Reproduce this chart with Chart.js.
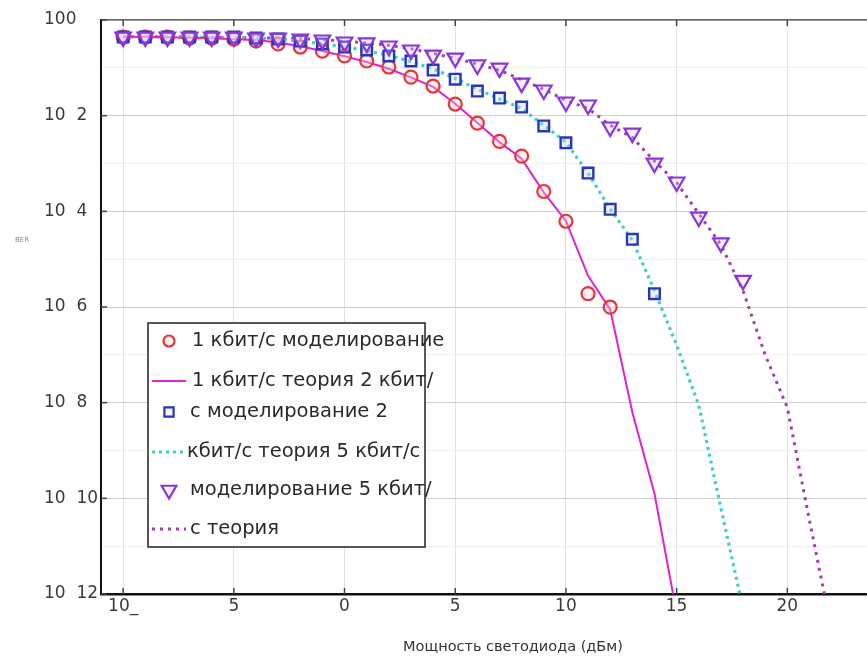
<!DOCTYPE html>
<html><head><meta charset="utf-8">
<script src="https://cdn.jsdelivr.net/npm/chart.js@4.4.1/dist/chart.umd.min.js"></script>
<style>html,body{margin:0;padding:0;background:#fff;overflow:hidden}#wrap{width:867px;height:659px}canvas{display:block}</style>
</head><body><div id="wrap"><canvas id="c" width="867" height="659"></canvas></div>
<script>
// ---- data ----
const xTickValues = [-10, -5, 0, 5, 10, 15, 20];
const xTickLabels = ['10_', '5', '0', '5', '10', '15', '20'];
const yTickValues = [1, 1e-1, 1e-2, 1e-3, 1e-4, 1e-5, 1e-6, 1e-7, 1e-8, 1e-9, 1e-10, 1e-11, 1e-12];
const yTickLabels = ['100', '', '10  2', '', '10  4', '', '10  6', '', '10  8', '', '10  10', '', '10  12'];
const xTitle = 'Мощность светодиода (дБм)';
const yTitle = 'BER';
const seriesLabels = [
  '1 кбит/с моделирование',
  '1 кбит/с теория 2 кбит/',
  'с моделирование 2',
  'кбит/с теория 5 кбит/с',
  'моделирование 5 кбит/',
  'с теория'
];

const sim1X = [-10,-9,-8,-7,-6,-5,-4,-3,-2,-1,0,1,2,3,4,5,6,7,8,9,10,11,12];
const sim1Y = [0.44,0.44,0.44,0.42,0.42,0.40,0.364,0.315,0.272,0.224,0.177,0.139,0.104,0.064,0.0416,0.0175,0.007,0.0029,0.00143,2.6e-4,6.2e-5,1.9e-6,9.9e-7];

const theory1X = [-10,-9,-8,-7,-6,-5,-4,-3,-2,-1,0,1,2,3,4,5,6,7,8,9,10,11,12,13,14,15];
const theory1Y = [0.447,0.442,0.437,0.427,0.417,0.398,0.38,0.339,0.282,0.224,0.174,0.132,0.0955,0.063,0.04,0.0178,0.0071,0.0028,0.00126,2.5e-4,6.3e-5,4.5e-6,8.9e-7,6.3e-9,1.26e-10,4e-13];

const sim2X = [-10,-9,-8,-7,-6,-5,-4,-3,-2,-1,0,1,2,3,4,5,6,7,8,9,10,11,12,13,14];
const sim2Y = [0.44,0.44,0.44,0.44,0.44,0.44,0.42,0.40,0.363,0.316,0.272,0.236,0.177,0.139,0.09,0.058,0.0327,0.0233,0.0151,0.0061,0.0027,6.3e-4,1.1e-4,2.6e-5,1.9e-6];

const theory2X = [-10,-9,-8,-7,-6,-5,-4,-3,-2,-1,0,1,2,3,4,5,6,7,8,9,10,11,12,13,14,15,16,17,18];
const theory2Y = [0.447,0.447,0.442,0.437,0.432,0.427,0.417,0.398,0.363,0.316,0.275,0.229,0.182,0.135,0.0955,0.06,0.0355,0.0224,0.0141,0.0063,0.0028,6.3e-4,1.12e-4,2.5e-5,2.2e-6,1.6e-7,8.9e-9,6.3e-11,5e-13];

const sim5X = [-10,-9,-8,-7,-6,-5,-4,-3,-2,-1,0,1,2,3,4,5,6,7,8,9,10,11,12,13,14,15,16,17,18];
const sim5Y = [0.44,0.44,0.44,0.44,0.44,0.44,0.42,0.42,0.40,0.382,0.347,0.331,0.286,0.236,0.185,0.16,0.115,0.099,0.048,0.0344,0.0193,0.0167,0.0058,0.0043,0.00102,4.1e-4,7.6e-5,2.2e-5,3.6e-6];

const theory5X = [-10,-9,-8,-7,-6,-5,-4,-3,-2,-1,0,1,2,3,4,5,6,7,8,9,10,11,12,13,14,15,16,17,18,19,20,21,22];
const theory5Y = [0.447,0.447,0.447,0.442,0.437,0.432,0.427,0.417,0.407,0.389,0.363,0.331,0.295,0.251,0.2,0.158,0.12,0.089,0.056,0.0355,0.0209,0.0141,0.0063,0.0035,0.00112,4.0e-4,8.9e-5,2.0e-5,2.2e-6,1e-7,7.9e-9,3.5e-11,1.8e-13];

// ---- build ----
const pts = (xs, ys) => xs.map((x, i) => ({x: x, y: ys[i]}));
const FONT = "'DejaVu Sans', 'Open Sans', sans-serif";
Chart.defaults.font.family = FONT;

const datasets = [
  {label: seriesLabels[0], data: pts(sim1X, sim1Y), showLine: false, pointStyle: 'circle', pointRadius: 6.5,
   pointBorderWidth: 2.2, borderColor: '#e5363e', backgroundColor: 'rgba(255,210,210,0.35)', order: 2},
  {label: seriesLabels[1], data: pts(theory1X, theory1Y), showLine: true, pointRadius: 0, borderWidth: 2,
   borderColor: '#e022d2', backgroundColor: '#e022d2', order: 3},
  {label: seriesLabels[2], data: pts(sim2X, sim2Y), showLine: false, pointStyle: 'rect', pointRadius: 7.5,
   pointBorderWidth: 2.4, borderColor: '#2a36b8', backgroundColor: 'rgba(210,215,255,0.3)', order: 1},
  {label: seriesLabels[3], data: pts(theory2X, theory2Y), showLine: true, pointRadius: 0, borderWidth: 3.2,
   borderDash: [3, 4], borderColor: '#3fcfc8', backgroundColor: '#3fcfc8', order: 3},
  {label: seriesLabels[4], data: pts(sim5X, sim5Y), showLine: false, pointStyle: 'triangle', pointRotation: 180,
   pointRadius: 9, pointBorderWidth: 2.2, borderColor: '#8a36d6', backgroundColor: 'rgba(230,210,255,0.3)', order: 0},
  {label: seriesLabels[5], data: pts(theory5X, theory5Y), showLine: true, pointRadius: 0, borderWidth: 3,
   borderDash: [3, 5], borderColor: '#a13fae', backgroundColor: '#a13fae', order: 3}
];

const frameAndLegend = {
  id: 'frameAndLegend',
  afterDatasetsDraw(chart) {
    const ctx = chart.ctx;
    const ca = chart.chartArea;
    const xs = chart.scales.x, ys = chart.scales.y;
    ctx.save();
    // inner tick marks
    ctx.strokeStyle = '#444';
    ctx.lineWidth = 1.5;
    xTickValues.forEach(v => {
      const px = xs.getPixelForValue(v);
      ctx.beginPath(); ctx.moveTo(px, ca.bottom); ctx.lineTo(px, ca.bottom - 6); ctx.stroke();
      ctx.beginPath(); ctx.moveTo(px, ca.top); ctx.lineTo(px, ca.top + 6); ctx.stroke();
    });
    yTickValues.forEach((v, i) => {
      if (!yTickLabels[i]) return;
      const py = ys.getPixelForValue(v);
      ctx.beginPath(); ctx.moveTo(ca.left, py); ctx.lineTo(ca.left + 6, py); ctx.stroke();
    });
    // axis titles
    ctx.fillStyle = '#888';
    ctx.font = '7px ' + FONT;
    ctx.textAlign = 'center'; ctx.textBaseline = 'middle';
    ctx.fillText(yTitle, 22, 240);
    ctx.fillStyle = '#333';
    ctx.font = '14.5px ' + FONT;
    ctx.fillText(xTitle, 513, 647);

    // legend box
    const L = 148, T = 323, W = 277, H = 224;
    ctx.fillStyle = '#fff';
    ctx.fillRect(L, T, W, H);
    ctx.strokeStyle = '#222'; ctx.lineWidth = 1.5;
    ctx.strokeRect(L, T, W, H);
    const rowY = [341, 381, 412, 452, 490, 529];
    const textX = [192, 192, 190, 187, 190, 190];
    ctx.font = '19.5px ' + FONT;
    ctx.textAlign = 'left'; ctx.textBaseline = 'middle';
    chart.data.datasets.forEach((ds, i) => {
      const y = rowY[i];
      ctx.save();
      if (ds.showLine) {
        ctx.strokeStyle = ds.borderColor;
        ctx.lineWidth = ds.borderWidth;
        ctx.setLineDash(ds.borderDash || []);
        ctx.beginPath(); ctx.moveTo(152, y); ctx.lineTo(186, y); ctx.stroke();
      } else {
        ctx.strokeStyle = ds.borderColor;
        ctx.fillStyle = ds.backgroundColor;
        ctx.lineWidth = 2.2;
        Chart.helpers.drawPoint(ctx, {pointStyle: ds.pointStyle, rotation: ds.pointRotation || 0,
          radius: ds.pointStyle === 'circle' ? 5.5 : (ds.pointStyle === 'rect' ? 6.5 : 8.5), borderWidth: 2.2}, 169, y);
      }
      ctx.restore();
      ctx.fillStyle = '#2a2a2a';
      ctx.fillText(ds.label, textX[i], y);
    });
    ctx.restore();
  }
};

const X_MIN = -11, X_MAX = 23.6;
new Chart(document.getElementById('c'), {
  type: 'scatter',
  data: {datasets: datasets},
  options: {
    responsive: false,
    animation: false,
    devicePixelRatio: 1,
    layout: {autoPadding: false, padding: {left: 44, right: 0, top: 0, bottom: 0}},
    plugins: {legend: {display: false}, tooltip: {enabled: false}},
    scales: {
      x: {
        type: 'linear', position: 'bottom', min: X_MIN, max: X_MAX,
        afterBuildTicks: s => { s.ticks = xTickValues.map(v => ({value: v})); },
        afterFit: s => { s.height = 65; },
        ticks: {callback: (v, i) => xTickLabels[i], color: '#3a3a3a', font: {size: 17}, padding: 2, maxRotation: 0, autoSkip: false},
        grid: {color: '#e2e2e2', lineWidth: 1, drawTicks: false},
        border: {display: true, color: '#111', width: 2.5},
        title: {display: false}
      },
      x2: {
        type: 'linear', position: 'top', min: X_MIN, max: X_MAX,
        afterBuildTicks: s => { s.ticks = xTickValues.map(v => ({value: v})); },
        afterFit: s => { s.height = 20; },
        ticks: {display: false},
        grid: {display: false, drawTicks: false},
        border: {display: true, color: '#666', width: 1.5}
      },
      y: {
        type: 'logarithmic', min: 1e-12, max: 1,
        afterBuildTicks: s => { s.ticks = yTickValues.map(v => ({value: v})); },
        afterFit: s => { s.width = 57; },
        ticks: {callback: (v, i) => yTickLabels[i], color: '#3a3a3a', font: {size: 17}, crossAlign: 'far', autoSkip: false},
        grid: {
          drawTicks: false, lineWidth: 1,
          color: c => (yTickLabels[c.index] ? '#cfcfcf' : '#efefef')
        },
        border: {display: true, color: '#111', width: 2}
      }
    }
  },
  plugins: [frameAndLegend]
});
</script>
</body></html>
